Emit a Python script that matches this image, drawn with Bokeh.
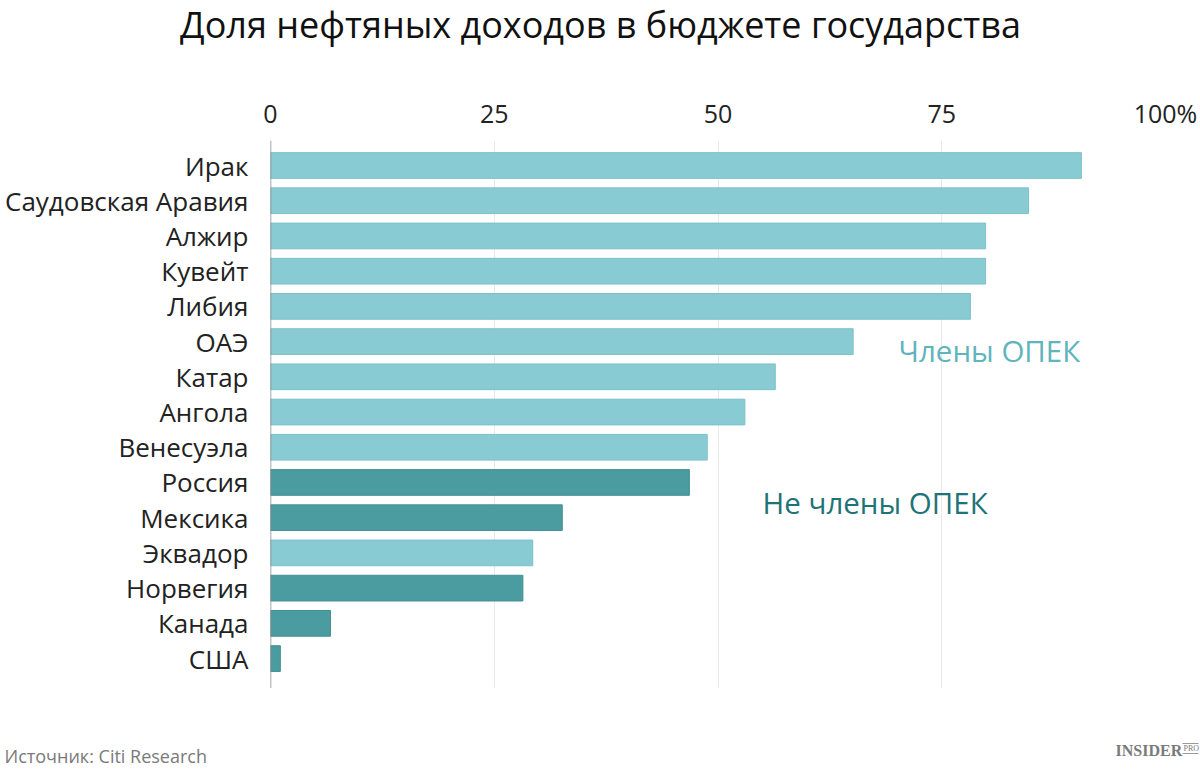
from bokeh.plotting import figure
from bokeh.models import Range1d, FixedTicker, Span, Label
from bokeh.layouts import column
from bokeh.embed import file_html
from bokeh.resources import INLINE

countries = ["Ирак", "Саудовская Аравия", "Алжир", "Кувейт", "Либия", "ОАЭ", "Катар",
             "Ангола", "Венесуэла", "Россия", "Мексика", "Эквадор", "Норвегия", "Канада", "США"]
shares = [90.6, 84.7, 79.9, 79.9, 78.2, 65.1, 56.4, 53.0, 48.8, 46.8, 32.6, 29.3, 28.2, 6.7, 1.1]
opec = [True, True, True, True, True, True, True, True, True, False, False, True, False, False, False]
x_ticks = [0, 25, 50, 75, 100]
x_tick_labels = ["0", "25", "50", "75", "100%"]

FONT = "Open Sans"
LIGHT = "#88cbd3"
DARK = "#4b9ca0"
W = 1200
HEAD_H, FOOT_H = 90, 82
MAIN_H = 770 - HEAD_H - FOOT_H
FL = 270

n = len(countries)
ys = [n - 1 - i for i in range(n)]


def blank(h):
    f = figure(width=W, height=h, output_backend="svg", toolbar_location=None,
               x_range=Range1d(0, W), y_range=Range1d(h, 0),
               x_axis_type=None, y_axis_type=None, frame_align=False,
               min_border_left=0, min_border_right=0, min_border_top=0, min_border_bottom=0)
    f.outline_line_color = None
    f.grid.grid_line_color = None
    f.background_fill_color = "white"
    f.border_fill_color = "white"
    return f


# header with the title
head = blank(HEAD_H)
head.add_layout(Label(x=600, y=24, text="Доля нефтяных доходов в бюджете государства",
                      text_font=FONT, text_font_size="36px", text_color="#111111",
                      text_align="center", text_baseline="middle"))

# main chart
p = figure(width=W, height=MAIN_H, output_backend="svg", toolbar_location=None,
           x_range=Range1d(0, 100), y_range=Range1d(-0.85, n - 1 + 0.71),
           x_axis_location="above", min_border_left=FL, min_border_right=35,
           min_border_top=140 - HEAD_H, min_border_bottom=0, frame_align=False)
p.outline_line_color = None
p.background_fill_color = "white"
p.border_fill_color = "white"

colors = [LIGHT if o else DARK for o in opec]
edges = ["#7cc0c8" if o else "#438f93" for o in opec]
p.hbar(y=ys, right=shares, left=0, height=0.73, fill_color=colors, line_color=edges, line_width=1)

p.xaxis.ticker = FixedTicker(ticks=x_ticks)
p.xaxis.major_label_overrides = {t: l for t, l in zip(x_ticks, x_tick_labels)}
p.xaxis.axis_line_color = None
p.xaxis.major_tick_line_color = None
p.xaxis.minor_tick_line_color = None
p.xaxis.major_label_text_font = FONT
p.xaxis.major_label_text_font_size = "25px"
p.xaxis.major_label_text_color = "#222222"
p.xaxis.major_label_standoff = 5

p.yaxis.ticker = FixedTicker(ticks=ys)
p.yaxis.major_label_overrides = {y: c for y, c in zip(ys, countries)}
p.yaxis.axis_line_color = None
p.yaxis.major_tick_line_color = None
p.yaxis.minor_tick_line_color = None
p.yaxis.major_label_text_font = FONT
p.yaxis.major_label_text_font_size = "26px"
p.yaxis.major_label_text_color = "#222222"
p.yaxis.major_label_standoff = 16

p.xgrid.ticker = FixedTicker(ticks=x_ticks[1:])
p.xgrid.grid_line_color = "#e9e9e9"
p.xgrid.grid_line_width = 1
p.ygrid.grid_line_color = None

p.add_layout(Span(location=0, dimension="height", line_color="#888888", line_width=1.5))

# group annotations (screen units relative to the frame: left = 270, bottom = 688)
p.add_layout(Label(x=898 - FL, y=688 - 350, x_units="screen", y_units="screen", text="Члены ОПЕК",
                   text_font=FONT, text_font_size="29.5px", text_color="#5fb4bd",
                   text_baseline="middle"))
p.add_layout(Label(x=762 - FL, y=688 - 502, x_units="screen", y_units="screen", text="Не члены ОПЕК",
                   text_font=FONT, text_font_size="29.5px", text_color="#1e7378",
                   text_baseline="middle"))

# footer with source and logo
foot = blank(FOOT_H)
foot.add_layout(Label(x=4, y=755 - 688, text="Источник: Citi Research",
                      text_font=FONT, text_font_size="18px", text_color="#7a7a7a",
                      text_baseline="middle"))
foot.add_layout(Label(x=1115, y=750 - 688, text="INSIDER",
                      text_font="Liberation Serif", text_font_size="16px", text_font_style="bold",
                      text_color="#7a7a7a", text_baseline="middle"))
foot.add_layout(Label(x=1183, y=748 - 688, text="PRO",
                      text_font="Liberation Serif", text_font_size="8px",
                      text_color="#7a7a7a", text_baseline="middle"))
foot.segment(x0=[1182, 1182], y0=[743 - 688, 753 - 688], x1=[1198, 1198], y1=[743 - 688, 753 - 688],
             line_color="#9a9a9a", line_width=1)

layout = column(head, p, foot, spacing=0)
open("out.html", "w").write(file_html(layout, INLINE))
